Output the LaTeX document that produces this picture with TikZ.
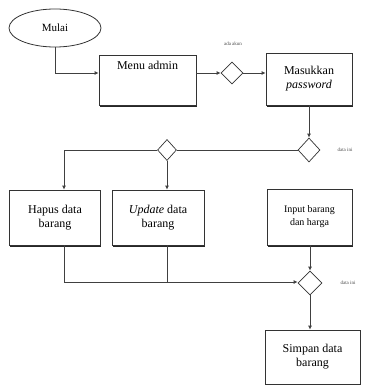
\documentclass[tikz,border=0pt]{standalone}
\usepackage{fontspec}
\setmainfont{Liberation Serif}
\usetikzlibrary{shapes.geometric,arrows.meta,shadows}
\begin{document}
\begin{tikzpicture}[x=1pt,y=-1pt,
  box/.style={draw=black!80,line width=0.7pt,fill=white,rectangle,align=center,inner sep=2pt,
     drop shadow={shadow xshift=0.8pt,shadow yshift=-1.6pt,fill=black!85,opacity=1}},
  dec/.style={draw=black!80,line width=0.7pt,fill=white,diamond,inner sep=0pt},
  lab/.style={font=\fontsize{5}{6}\selectfont,text=black!70,inner sep=1pt},
  con/.style={draw=black!75,line width=0.8pt},
  arr/.style={con,-{Latex[length=4pt,width=4pt]}},
  txt/.style={font=\fontsize{12}{14}\selectfont}
]
\useasboundingbox (0,0) rectangle (369,385);
\node[draw=black!80,line width=0.8pt,ellipse,minimum width=92pt,minimum height=38pt,txt,font=\fontsize{11}{13}\selectfont] (mulai) at (55,28) {Mulai};
\node[box,minimum width=97pt,minimum height=50pt,txt] (menu) at (147.5,80) {\\[-24pt]Menu admin\\[6pt]};
\node[dec,minimum width=22pt,minimum height=22pt] (d1) at (232,73) {};
\node[lab] (l1) at (233,44) {ada akun};
\node[box,minimum width=86pt,minimum height=52pt,txt] (pass) at (309,79) {Masukkan\\\textit{password}};
\node[dec,minimum width=22pt,minimum height=24pt] (d2) at (309,150) {};
\node[lab] (l2) at (345,150) {data ini};
\node[dec,minimum width=19pt,minimum height=21pt] (d3) at (167,150) {};
\node[box,minimum width=91pt,minimum height=55pt,txt] (hapus) at (55,217.5) {Hapus data\\barang};
\node[box,minimum width=92pt,minimum height=55pt,txt] (update) at (158,217.5) {\textit{Update} data\\barang};
\node[box,minimum width=85pt,minimum height=56pt,font=\fontsize{10}{13}\selectfont] (input) at (309.5,217) {Input barang\\dan harga};
\node[dec,minimum width=24pt,minimum height=24pt] (d4) at (310,283) {};
\node[lab] (l3) at (348,283) {data ini};
\node[box,minimum width=95pt,minimum height=54pt,txt] (simpan) at (312.5,357) {Simpan data\\barang};
\coordinate (c1) at (55,73);
\coordinate (c2) at (64,150);
\coordinate (c3) at (64,282);
\coordinate (c4) at (167,282);
\draw[arr] (mulai.south) -- (c1) -- (menu.west |- c1);
\draw[arr] (menu.east |- d1) -- (d1.west);
\draw[arr] (d1.east) -- (pass.west |- d1);
\draw[arr] (pass.south -| d2) -- (d2.north);
\draw[con] (d2.west) -- (d3.east);
\draw[arr] (d3.west) -- (c2) -- (hapus.north -| c2);
\draw[arr] (d3.south) -- (update.north -| d3);
\draw[con] (hapus.south -| c3) -- (c3) -- (c4);
\draw[con] (update.south -| c4) -- (c4);
\draw[arr] (c4) -- (d4.west |- c3);
\draw[arr] (input.south -| d4) -- (d4.north);
\draw[arr] (d4.south) -- (simpan.north -| d4);
\end{tikzpicture}
\end{document}
